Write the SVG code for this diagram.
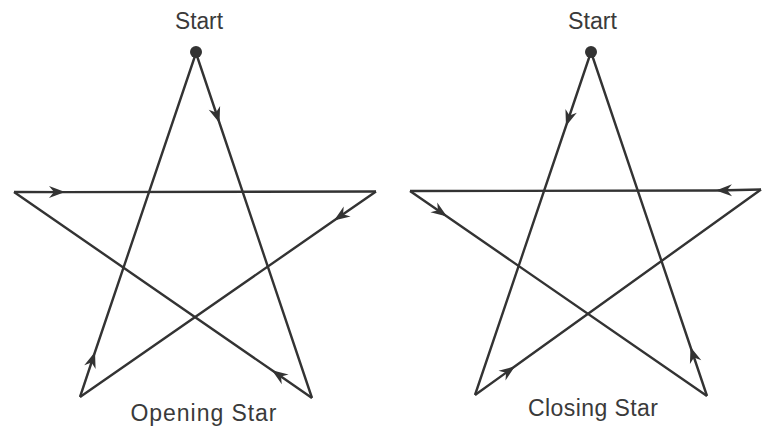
<svg xmlns="http://www.w3.org/2000/svg" width="762" height="428" viewBox="0 0 762 428">
<style>
.edge{fill:none;stroke:#333;stroke-width:2.4;stroke-linejoin:miter;marker-mid:url(#arr)}
.lbl{font-family:"Liberation Sans",Arial,sans-serif;font-size:23px;fill:#3a3a3a;text-anchor:middle}
.dot{fill:#333}
</style>
<defs>
<marker id="arr" markerUnits="userSpaceOnUse" viewBox="-17 -7 18 14" refX="0" refY="0" markerWidth="18" markerHeight="14" orient="auto">
<path d="M0,0 L-16,-6 L-11,0 L-16,6 Z" fill="#333"/>
</marker>
</defs>
<rect width="762" height="428" fill="#fff"/>
<g id="connectors">
<!-- Opening star -->
<path class="edge" d="M196,53 L219.5,123 L312,398"/>
<path class="edge" d="M312,398 L272,370.3 L14,192"/>
<path class="edge" d="M14,192 L65,192.1 L376,191.5"/>
<path class="edge" d="M376,191.5 L334,220.6 L80,397"/>
<path class="edge" d="M80,397 L95,352 L196,53"/>
<!-- Closing star -->
<path class="edge" d="M591,52 L566,126 L475,395"/>
<path class="edge" d="M475,395 L515,366.3 L761,189.5"/>
<path class="edge" d="M761,189.5 L716,190.5 L410,191"/>
<path class="edge" d="M410,191 L447,216.5 L707,396"/>
<path class="edge" d="M707,396 L690.5,347 L591,52"/>
</g>
<g id="opening-start">
<circle class="dot" cx="196" cy="52" r="6"/>
<text class="lbl" x="199" y="29" textLength="48" lengthAdjust="spacingAndGlyphs">Start</text>
</g>
<g id="opening-label">
<text class="lbl" x="203.5" y="421" textLength="146" lengthAdjust="spacing">Opening Star</text>
</g>
<g id="closing-start">
<circle class="dot" cx="591" cy="52" r="6"/>
<text class="lbl" x="592.5" y="28.5" textLength="49" lengthAdjust="spacingAndGlyphs">Start</text>
</g>
<g id="closing-label">
<text class="lbl" x="593" y="416" textLength="130" lengthAdjust="spacing">Closing Star</text>
</g>
</svg>
